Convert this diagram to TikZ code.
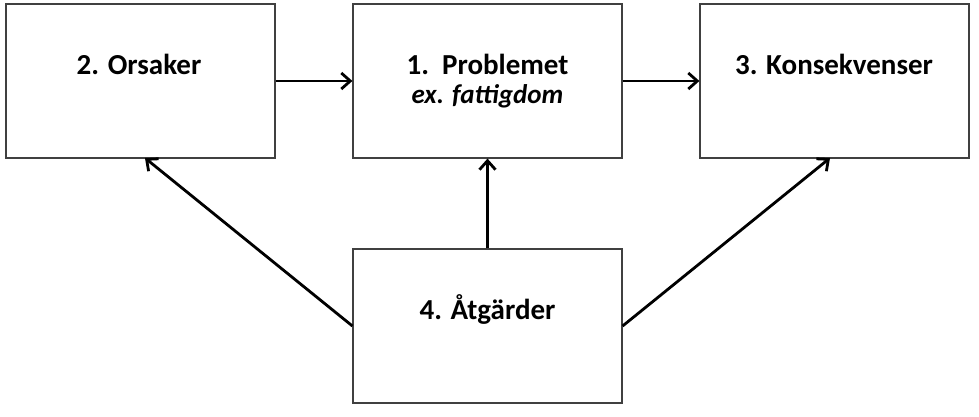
\documentclass[tikz,border=0pt]{standalone}
\usepackage{fontspec}
\setmainfont{Carlito}
\usetikzlibrary{arrows.meta}
\begin{document}
\begin{tikzpicture}[x=1pt,y=-1pt,
  box/.style={draw=black!75,line width=1.2pt,minimum width=269pt,minimum height=154pt,inner sep=0pt},
  lbl/.style={anchor=base,inner sep=0pt,font=\bfseries\fontsize{29}{33}\selectfont},
  sub/.style={anchor=base,inner sep=0pt,font=\bfseries\itshape\fontsize{27}{31}\selectfont},
  conn/.style={line width=2.8pt,-{Straight Barb[length=9pt,width=16pt,line width=2.8pt]}}]
\useasboundingbox (0,0) rectangle (979,417);
\node[box] (b2) at (140.5,81) {};
\node[box] (b1) at (487.5,81) {};
\node[box] (b3) at (834.5,81) {};
\node[box] (b4) at (487.5,326) {};
\node[lbl] (t2) at (139,75) {2. Orsaker};
\node[lbl] (t1) at (487.5,75) {1.\ \ Problemet};
\node[sub] (s1) at (487.5,103) {ex. fattigdom};
\node[lbl] (t3) at (834,75) {3. Konsekvenser};
\node[lbl] (t4) at (487.5,319) {4. Åtgärder};
\draw[conn] (b2.east) -- (b1.west);
\draw[conn] (b1.east) -- (b3.west);
\draw[conn] (b4.north) -- (b1.south);
\coordinate (l) at (145,158);
\coordinate (r) at (830,158);
\draw[conn] (b4.west) -- (l);
\draw[conn] (b4.east) -- (r);
\end{tikzpicture}
\end{document}
